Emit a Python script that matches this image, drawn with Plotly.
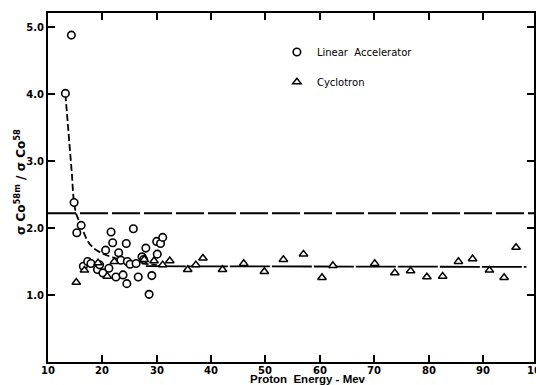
import plotly.graph_objects as go

# Linear accelerator data (proton energy in MeV, cross-section ratio)
linac_E = [13.2, 14.3, 14.8, 15.3, 16.1, 16.5, 17.3, 17.9, 19.1, 19.5, 20.1, 20.6,
           21.2, 21.6, 21.9, 22.5, 23.0, 23.4, 23.8, 24.4, 24.5, 24.6, 25.1, 25.7,
           26.2, 26.6, 27.3, 27.6, 28.0, 28.6, 29.1, 30.0, 30.1, 30.7, 31.1]
linac_R = [4.01, 4.88, 2.38, 1.93, 2.04, 1.43, 1.50, 1.47, 1.38, 1.45, 1.33, 1.67,
           1.40, 1.94, 1.78, 1.27, 1.63, 1.52, 1.30, 1.77, 1.17, 1.50, 1.46, 1.99,
           1.47, 1.27, 1.57, 1.53, 1.70, 1.01, 1.29, 1.80, 1.61, 1.77, 1.86]

# Cyclotron data
cyc_E = [15.2, 16.7, 19.2, 20.9, 22.2, 27.7, 29.5, 31.1, 32.4, 35.7, 37.2, 38.5,
         42.1, 46.0, 49.8, 53.3, 57.0, 60.4, 62.4, 70.1, 73.8, 76.7, 79.7, 82.6,
         85.5, 88.1, 91.2, 93.9, 96.1]
cyc_R = [1.19, 1.37, 1.48, 1.28, 1.50, 1.53, 1.51, 1.45, 1.51, 1.38, 1.45, 1.55,
         1.38, 1.47, 1.35, 1.53, 1.61, 1.26, 1.44, 1.47, 1.33, 1.36, 1.27, 1.28,
         1.50, 1.54, 1.37, 1.26, 1.71]

# Hand-drawn fit curve (dashed) and mean line
fit_E = [13.2, 13.6, 14.0, 14.4, 14.7, 15.2, 16.1, 17.2, 18.4, 20.0, 22.0, 24.5, 27.5, 30.0]
fit_R = [4.0, 3.6, 3.2, 2.8, 2.45, 2.21, 2.04, 1.82, 1.70, 1.62, 1.56, 1.51, 1.47, 1.45]
mean_E = [28.0, 98.0]
mean_R = [1.43, 1.42]

# Upper horizontal dashed reference line
ref_E = [10, 100]
ref_R = [2.22, 2.22]

x_ticks = [10, 20, 30, 40, 50, 60, 70, 80, 90, 100]
y_ticks = [1.0, 2.0, 3.0, 4.0, 5.0]

FONT = "DejaVu Sans"
X_MAX = 99.4

fig = go.Figure()
fig.add_trace(go.Scatter(x=ref_E, y=ref_R, mode="lines", showlegend=False, hoverinfo="skip",
                         line=dict(color="black", width=2, dash="28px,4px")))
fig.add_trace(go.Scatter(x=fit_E, y=fit_R, mode="lines", showlegend=False, hoverinfo="skip",
                         line=dict(color="black", width=1.8, dash="7px,3px", shape="spline")))
fig.add_trace(go.Scatter(x=mean_E, y=mean_R, mode="lines", showlegend=False, hoverinfo="skip",
                         line=dict(color="black", width=1.8, dash="40px,2px")))
fig.add_trace(go.Scatter(x=linac_E, y=linac_R, mode="markers", name="Linear  Accelerator",
                         legendgroup="a",
                         marker=dict(symbol="circle", size=7.5, color="white",
                                     line=dict(color="black", width=1.6))))
fig.add_trace(go.Scatter(x=cyc_E, y=cyc_R, mode="markers", name="Cyclotron",
                         legendgroup="b",
                         marker=dict(symbol="triangle-up", size=7.5, color="white",
                                     line=dict(color="black", width=1.5))))

axis_common = dict(showline=True, linecolor="black", linewidth=2, mirror="ticks",
                   ticks="inside", ticklen=7, tickwidth=2, tickcolor="black",
                   showgrid=False, zeroline=False,
                   tickfont=dict(family=FONT, size=10, color="black", weight="bold"))

tick_font = dict(family=FONT, size=10, color="black", weight="bold")
# x tick labels, placed through the x axis scale (last one sits just past the right edge)
x_labels = []
for v in x_ticks:
    if v <= X_MAX:
        x_labels.append(dict(text=str(v), x=v, xref="x", y=0, yref="paper",
                             xanchor="center", yanchor="middle", yshift=-8,
                             showarrow=False, font=tick_font))
    else:
        x_labels.append(dict(text=str(v), x=(v - 10) / (X_MAX - 10), xref="paper", y=0,
                             yref="paper", xanchor="center", yanchor="middle", yshift=-8,
                             showarrow=False, font=tick_font))

fig.update_layout(
    width=536, height=385,
    margin=dict(l=48, r=0, t=13, b=23),
    paper_bgcolor="white", plot_bgcolor="white",
    xaxis=dict(range=[10, X_MAX], tickvals=[v for v in x_ticks if v <= X_MAX],
               showticklabels=False, **axis_common),
    yaxis=dict(range=[0, 5.21], tickvals=y_ticks, ticktext=[f"{v:.1f}" for v in y_ticks],
               **axis_common),
    legend=dict(x=0.471, y=0.93, xanchor="left", yanchor="top", bgcolor="rgba(0,0,0,0)",
                tracegroupgap=11, font=dict(family=FONT, size=10, color="black")),
    annotations=x_labels + [
        dict(text="Proton  Energy - Mev", x=(309 - 48) / 488, y=-(378.5 - 362) / 349,
             xref="paper", yref="paper", xanchor="center", yanchor="middle", showarrow=False,
             font=dict(family="Liberation Sans", size=11.5, color="black", weight="bold")),
        dict(text="σ Co<sup>58m</sup> / σ Co<sup>58</sup>", x=-0.058, y=0.515,
             xref="paper", yref="paper", textangle=-90, xanchor="center", yanchor="middle",
             showarrow=False, font=dict(family=FONT, size=12, color="black", weight="bold")),
    ],
)

fig.write_html("out.html")
